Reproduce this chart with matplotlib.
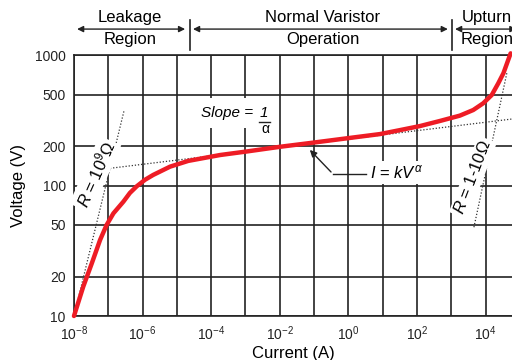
import numpy as np
import matplotlib
matplotlib.use("Agg")
import matplotlib.pyplot as plt
import matplotlib.transforms as mtransforms

plt.rcParams['font.family'] = ['Liberation Sans', 'DejaVu Sans']
plt.rcParams['mathtext.fontset'] = 'custom'
plt.rcParams['mathtext.rm'] = 'Liberation Sans'
plt.rcParams['mathtext.it'] = 'Liberation Sans:italic'

# V-I curve of the varistor (log10 of current in A, voltage in V)
log_current = [-8.0, -7.73, -7.48, -7.24, -7.05, -6.85, -6.56, -6.37, -6.17,
               -5.93, -5.69, -5.20, -4.67, -3.74, -2.97, -1.99, -1.03, -0.05,
               0.92, 1.50, 2.09, 2.67, 3.25, 3.64, 3.93, 4.18, 4.37, 4.52, 4.66,
               4.73]
voltage = [10, 16.8, 25.4, 38.3, 49.9, 61.4, 75.4, 88, 99, 111, 121, 140, 155,
           172, 183, 199, 214, 231, 249, 267, 287, 314, 345, 381, 429, 497, 611,
           730, 923, 1037]

# dotted guide lines
r_high_logi = [-8.0, -6.54]
r_high_v = [10, 377]
slope_logi = [-6.95, 4.77]
slope_v = [136, 325]
r_low_logi = [3.66, 4.62]
r_low_v = [48, 733]

# ticks
x_ticks_log = list(range(-8, 5))
x_tick_labels = ['$10^{-8}$', '', '$10^{-6}$', '', '$10^{-4}$', '', '$10^{-2}$', '',
                 '$10^{0}$', '', '$10^{2}$', '', '$10^{4}$']
y_ticks = [10, 20, 50, 100, 200, 500, 1000]
y_tick_labels = ['10', '20', '50', '100', '200', '500', '1000']

# region headers (log10 current bounds)
region_bounds = [(-7.91, -4.76), (-4.53, 2.90), (3.11, 4.9)]
region_centers = [-6.36, -0.75, 4.04]
region_names = ['Leakage\nRegion', 'Normal Varistor\nOperation', 'Upturn\nRegion']
region_dividers = [-4.62, 3.02]

fig = plt.figure(figsize=(5.12, 3.6), dpi=100)
ax = fig.add_axes([0.1445, 0.1222, 0.8555, 0.7239])
ax.set_xscale('log')
ax.set_yscale('log')
ax.set_xlim(10 ** -8, 10 ** 4.77)
ax.set_ylim(10, 1000)

ax.set_xticks([10.0 ** e for e in x_ticks_log])
ax.set_xticklabels(x_tick_labels)
ax.set_xticks([], minor=True)
ax.set_yticks(y_ticks)
ax.set_yticklabels(y_tick_labels)
ax.set_yticks([], minor=True)
ax.tick_params(length=0, labelsize=10, pad=6, colors='#222222')
ax.grid(True, color='#222222', linewidth=1.2)
for s in ax.spines.values():
    s.set_color('#222222')
    s.set_linewidth(1.2)
ax.spines['right'].set_visible(False)

ax.set_xlabel('Current (A)', fontsize=12, labelpad=2)
ax.set_ylabel('Voltage (V)', fontsize=12, labelpad=6)

dot = dict(color='#333333', linestyle=(0, (1, 1.5)), linewidth=0.9)
ax.plot(10.0 ** np.array(r_high_logi), r_high_v, **dot)
ax.plot(10.0 ** np.array(slope_logi), slope_v, **dot)
ax.plot(10.0 ** np.array(r_low_logi), r_low_v, **dot)

ax.plot(10.0 ** np.array(log_current), voltage, color='#ee1c25', linewidth=3.2,
        solid_capstyle='round', solid_joinstyle='round', clip_on=False, zorder=5)

wbox = dict(facecolor='white', edgecolor='none', pad=1.5)
ax.text(10 ** -7.38, 122, r'$R$ = 10$^{9}$$\Omega$', rotation=66, fontsize=12,
        ha='center', va='center', bbox=wbox, zorder=4)
ax.text(10 ** 3.63, 116, r'$R$ = 1-10$\Omega$', rotation=69, fontsize=12,
        ha='center', va='center', bbox=wbox, zorder=4)

# slope label
ax.text(10 ** -4.3, 361, 'Slope = ', fontsize=11, style='italic', ha='left',
        va='center', bbox=dict(facecolor='white', edgecolor='none', pad=6), zorder=4)
ax.text(10 ** -2.45, 361, '1', fontsize=11, style='italic', ha='center',
        va='center', bbox=dict(facecolor='white', edgecolor='none', pad=4), zorder=4)
ax.plot([10 ** -2.6, 10 ** -2.28], [308, 308], color='#222222', linewidth=1, zorder=5)
ax.text(10 ** -2.43, 274, '\u03b1', fontsize=10, ha='center', va='center',
        bbox=dict(facecolor='white', edgecolor='none', pad=2), zorder=4)

# I = kV^alpha label with leader
ax.text(10 ** 0.62, 126, r'$I$ = $kV^{\alpha}$', fontsize=12, ha='left', va='center',
        bbox=dict(facecolor='white', edgecolor='none', pad=2), zorder=4)
ax.plot([10 ** -0.45, 10 ** 0.5], [123, 123], color='#222222', linewidth=1, zorder=5)
ax.annotate('', xy=(10 ** -1.18, 195), xytext=(10 ** -0.45, 123),
            arrowprops=dict(arrowstyle='-|>', color='#222222', lw=1,
                            mutation_scale=10), zorder=5)

# region header above the plot
trans = mtransforms.blended_transform_factory(ax.transData, ax.transAxes)
for (lo, hi), c, name in zip(region_bounds, region_centers, region_names):
    ax.annotate('', xy=(10 ** lo, 1.101), xytext=(10 ** hi, 1.101), xycoords=trans,
                textcoords=trans,
                arrowprops=dict(arrowstyle='<|-|>', color='#222222', lw=1,
                                mutation_scale=9, shrinkA=0, shrinkB=0),
                annotation_clip=False)
    top, bottom = name.split('\n')
    ax.text(10 ** c, 1.146, top, transform=trans, fontsize=12, ha='center',
            va='center', clip_on=False)
    ax.text(10 ** c, 1.062, bottom, transform=trans, fontsize=12, ha='center',
            va='center', clip_on=False)
for d in region_dividers:
    ax.plot([10 ** d, 10 ** d], [1.02, 1.136], transform=trans, color='#222222',
            linewidth=1.2, clip_on=False)

fig.savefig('out.png', dpi=100)
